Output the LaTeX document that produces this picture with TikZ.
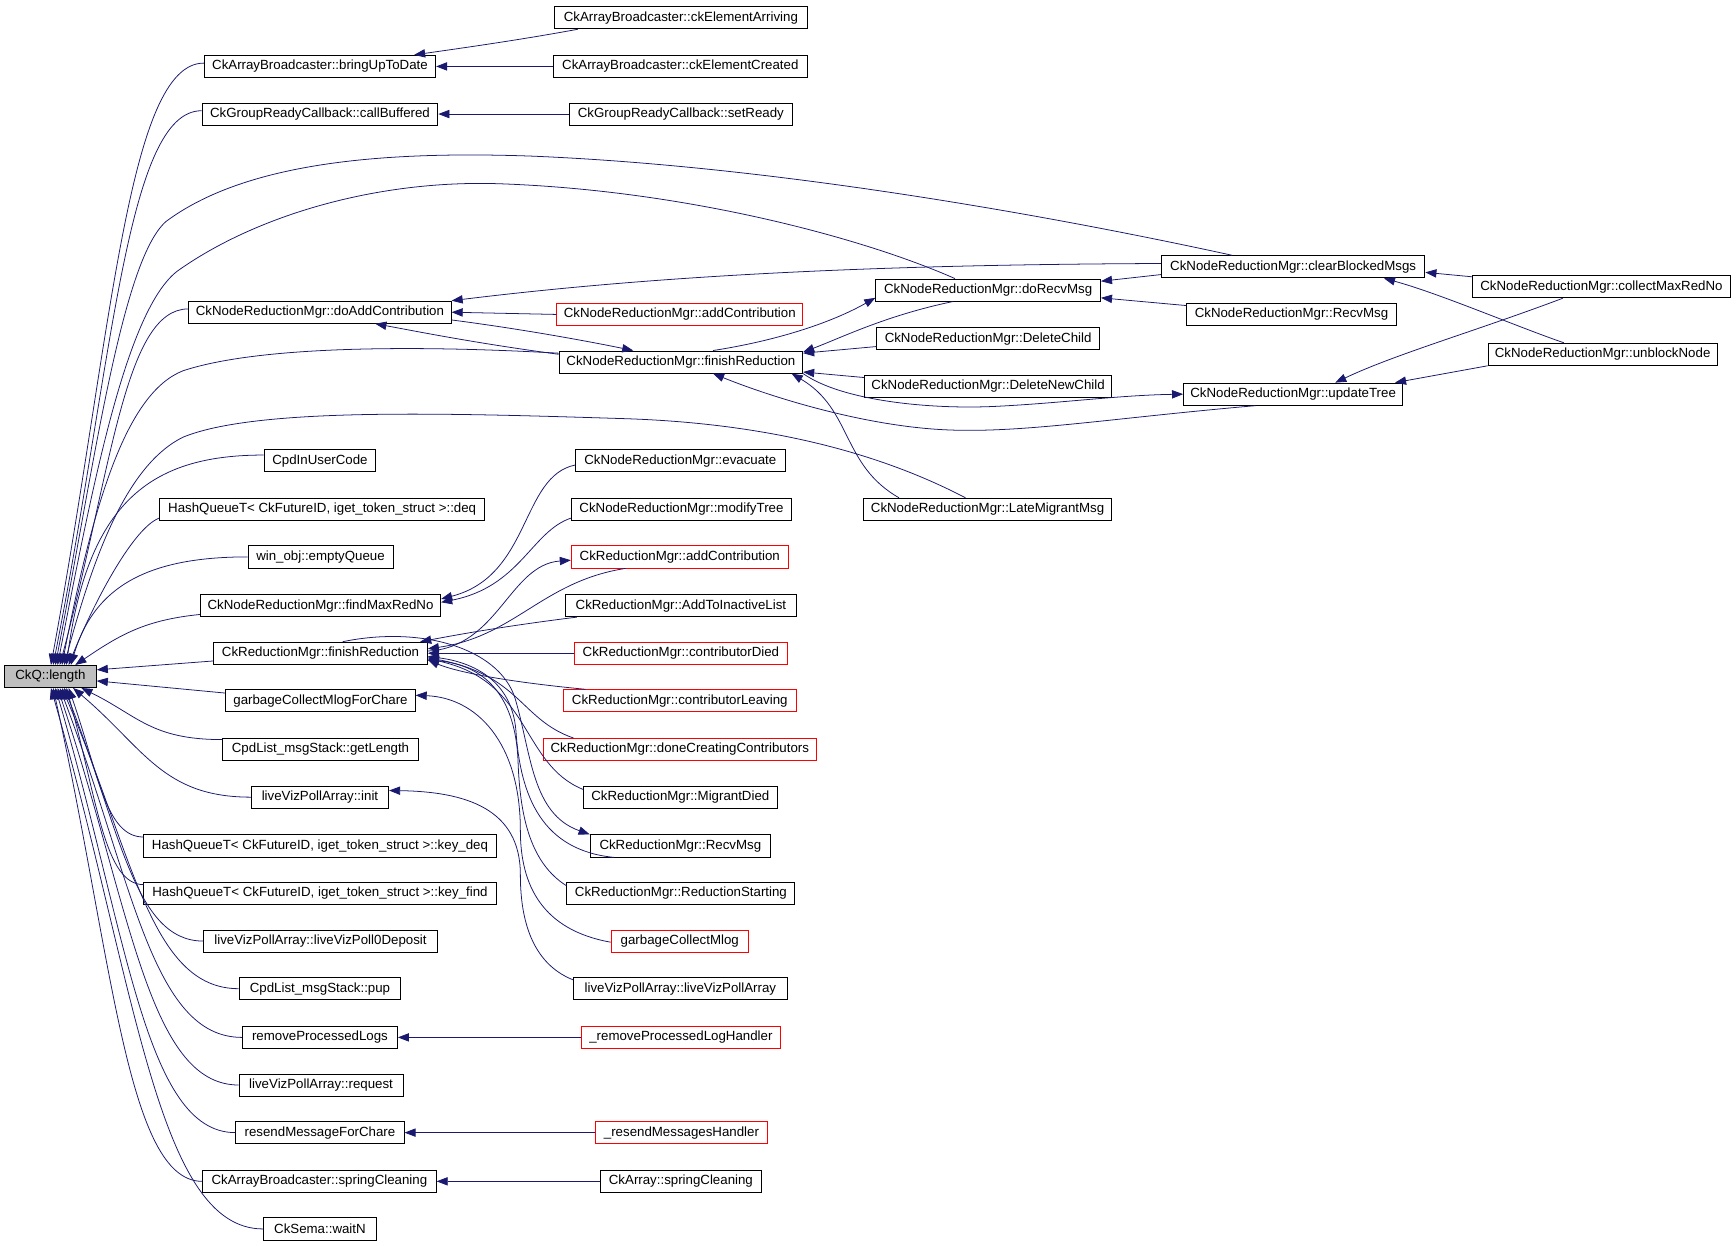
\documentclass[tikz,border=0pt]{standalone}
\usepackage{fontspec}
\newfontfamily\fnfont{Liberation Sans}
\usetikzlibrary{arrows.meta}
\definecolor{edgeblue}{HTML}{191970}
\definecolor{rootgray}{HTML}{BFBFBF}
\begin{document}
\begin{tikzpicture}[x=1pt, y=-1pt,
  fn/.style={draw=black, line width=0.8pt, fill=white, minimum height=20pt, inner xsep=3pt, inner ysep=0pt, font=\fnfont\fontsize{12}{14}\selectfont},
  fnred/.style={fn, draw=red},
  fnroot/.style={fn, fill=rootgray},
  edge/.style={draw=edgeblue, line width=0.7pt, -{Triangle[length=10pt,width=7.5pt]}}]
\path[fill=white] (0,0) rectangle (1568,1125);
\node[fnroot, minimum width=83pt] (a0) at (45.5,611){CkQ::length};
\node[fn, minimum width=209pt] (b1) at (289,60){CkArrayBroadcaster::bringUpToDate};
\node[fn, minimum width=213pt] (b2) at (289,103){CkGroupReadyCallback::callBuffered};
\node[fn, minimum width=237pt] (b3) at (289,282){CkNodeReductionMgr::doAddContribution};
\node[fn, minimum width=101pt] (b4) at (289,416){CpdInUserCode};
\node[fn, minimum width=294pt] (b5) at (291,460){HashQueueT< CkFutureID, iget\_token\_struct >::deq};
\node[fn, minimum width=131pt] (b6) at (289.5,503){win\_obj::emptyQueue};
\node[fn, minimum width=217pt] (b7) at (289.5,547){CkNodeReductionMgr::findMaxRedNo};
\node[fn, minimum width=193pt] (b8) at (289.5,590){CkReductionMgr::finishReduction};
\node[fn, minimum width=171pt] (b9) at (289.5,633){garbageCollectMlogForChare};
\node[fn, minimum width=177pt] (b10) at (289.5,677){CpdList\_msgStack::getLength};
\node[fn, minimum width=124pt] (b11) at (289,720){liveVizPollArray::init};
\node[fn, minimum width=318pt] (b12) at (289,764){HashQueueT< CkFutureID, iget\_token\_struct >::key\_deq};
\node[fn, minimum width=318pt] (b13) at (289,807){HashQueueT< CkFutureID, iget\_token\_struct >::key\_find};
\node[fn, minimum width=211pt] (b14) at (289.5,850){liveVizPollArray::liveVizPoll0Deposit};
\node[fn, minimum width=146pt] (b15) at (289,893){CpdList\_msgStack::pup};
\node[fn, minimum width=140pt] (b16) at (289,937){removeProcessedLogs};
\node[fn, minimum width=148pt] (b17) at (290,980){liveVizPollArray::request};
\node[fn, minimum width=152pt] (b18) at (289,1023){resendMessageForChare};
\node[fn, minimum width=211pt] (b19) at (288.5,1067){CkArrayBroadcaster::springCleaning};
\node[fn, minimum width=102pt] (b20) at (289,1110){CkSema::waitN};
\node[fn, minimum width=228pt] (c1) at (615,16){CkArrayBroadcaster::ckElementArriving};
\node[fn, minimum width=229pt] (c2) at (614.5,60){CkArrayBroadcaster::ckElementCreated};
\node[fn, minimum width=202pt] (c3) at (615,103){CkGroupReadyCallback::setReady};
\node[fnred, minimum width=222pt] (c4) at (614,284){CkNodeReductionMgr::addContribution};
\node[fn, minimum width=220pt] (c5) at (615,327){CkNodeReductionMgr::finishReduction};
\node[fn, minimum width=189pt] (c6) at (614.5,416){CkNodeReductionMgr::evacuate};
\node[fn, minimum width=199pt] (c7) at (615.5,460){CkNodeReductionMgr::modifyTree};
\node[fnred, minimum width=196pt] (c8) at (614,503){CkReductionMgr::addContribution};
\node[fn, minimum width=208pt] (c9) at (615,547){CkReductionMgr::AddToInactiveList};
\node[fnred, minimum width=192pt] (c10) at (615,590){CkReductionMgr::contributorDied};
\node[fnred, minimum width=210pt] (c11) at (614,633){CkReductionMgr::contributorLeaving};
\node[fnred, minimum width=246pt] (c12) at (614,677){CkReductionMgr::doneCreatingContributors};
\node[fn, minimum width=175pt] (c13) at (614.5,720){CkReductionMgr::MigrantDied};
\node[fn, minimum width=163pt] (c14) at (614.5,764){CkReductionMgr::RecvMsg};
\node[fn, minimum width=206pt] (c15) at (615,807){CkReductionMgr::ReductionStarting};
\node[fnred, minimum width=124pt] (c16) at (614,850){garbageCollectMlog};
\node[fn, minimum width=193pt] (c17) at (614.5,893){liveVizPollArray::liveVizPollArray};
\node[fnred, minimum width=180pt] (c18) at (615,937){\_removeProcessedLogHandler};
\node[fnred, minimum width=155pt] (c19) at (615.5,1023){\_resendMessagesHandler};
\node[fn, minimum width=146pt] (c20) at (615,1067){CkArray::springCleaning};
\node[fn, minimum width=203pt] (d1) at (892.5,262){CkNodeReductionMgr::doRecvMsg};
\node[fn, minimum width=201pt] (d2) at (892.5,306){CkNodeReductionMgr::DeleteChild};
\node[fn, minimum width=223pt] (d3) at (892.5,349){CkNodeReductionMgr::DeleteNewChild};
\node[fn, minimum width=224pt] (d4) at (892,460){CkNodeReductionMgr::LateMigrantMsg};
\node[fn, minimum width=238pt] (e1) at (1168,241){CkNodeReductionMgr::clearBlockedMsgs};
\node[fn, minimum width=189pt] (e2) at (1166.5,284){CkNodeReductionMgr::RecvMsg};
\node[fn, minimum width=198pt] (e3) at (1168,356){CkNodeReductionMgr::updateTree};
\node[fn, minimum width=233pt] (f1) at (1446.5,259){CkNodeReductionMgr::collectMaxRedNo};
\node[fn, minimum width=207pt] (f2) at (1447.5,320){CkNodeReductionMgr::unblockNode};

% callers of CkQ::length, from above
\draw[edge] ([yshift=3pt]b1.west) .. controls +(-69,0) and +(55,-298) .. ([xshift=0.5pt]a0.north);
\draw[edge] ([yshift=3pt]b2.west) .. controls +(-68,0) and +(54,-274) .. ([xshift=2.5pt]a0.north);
\draw[edge] ([xshift=-55pt]e1.north) .. controls (950,195) and (700,150) .. (480,141) .. controls (340,136) and (220,148) .. (150,200) .. controls (110,235) and (85,420) .. ([xshift=4.5pt]a0.north);
\draw[edge] ([xshift=-30pt]d1.north) .. controls (780,215) and (620,172) .. (452,166) .. controls (340,162) and (230,195) .. (160,245) .. controls (115,280) and (85,430) .. ([xshift=6.5pt]a0.north);
\draw[edge] ([yshift=3pt]b3.west) .. controls +(-58,0) and +(47,-175) .. ([xshift=8.5pt]a0.north);
\draw[edge] ([yshift=8pt]c5.west) .. controls (400,313) and (240,310) .. (165,335) .. controls (115,355) and (85,450) .. ([xshift=10.5pt]a0.north);
\draw[edge] ([xshift=-20pt]d4.north) .. controls (800,412) and (700,382) .. (560,378) .. controls (400,373) and (230,368) .. (165,395) .. controls (115,420) and (85,500) .. ([xshift=12.5pt]a0.north);
\draw[edge] ([yshift=5pt]b4.west) .. controls +(-98,0) and +(20,-151) .. ([xshift=14.5pt]a0.north);
\draw[edge] ([yshift=-8pt]b5.west) .. controls +(-25,10) and +(20,-50) .. ([xshift=16.5pt]a0.north);
\draw[edge] (b6.west) .. controls +(-90,0) and +(21,-71) .. ([xshift=18.5pt]a0.north);
\draw[edge] ([yshift=-8pt]b7.west) .. controls +(-50,5) and +(40,-27) .. ([xshift=22.5pt]a0.north);
% from the right
\draw[edge] ([yshift=-7pt]b8.west) -- ([yshift=6pt]a0.east);
\draw[edge] ([yshift=7pt]b9.west) -- ([yshift=-4pt]a0.east);
% from below
\draw[edge] ([yshift=9pt]b10.west) .. controls +(-64,0) and +(51,25) .. ([xshift=28pt]a0.south);
\draw[edge] (b11.west) .. controls +(-80,0) and +(64,54) .. ([xshift=20.5pt]a0.south);
\draw[edge] ([yshift=8pt]b12.west) .. controls +(-34,0) and +(27,78) .. ([xshift=16.5pt]a0.south);
\draw[edge] ([yshift=8pt]b13.west) .. controls +(-35,0) and +(28,102) .. ([xshift=14.5pt]a0.south);
\draw[edge] (b14.west) .. controls +(-63,0) and +(50,125) .. ([xshift=12.5pt]a0.south);
\draw[edge] (b15.west) .. controls +(-80,0) and +(64,149) .. ([xshift=10.5pt]a0.south);
\draw[edge] (b16.west) .. controls +(-82,0) and +(66,173) .. ([xshift=8.5pt]a0.south);
\draw[edge] (b17.west) .. controls +(-82,0) and +(66,197) .. ([xshift=6.5pt]a0.south);
\draw[edge] (b18.west) .. controls +(-82,0) and +(65,221) .. ([xshift=4.5pt]a0.south);
\draw[edge] (b19.west) .. controls +(-68,0) and +(54,245) .. ([xshift=2.5pt]a0.south);
\draw[edge] (b20.west) .. controls +(-96,0) and +(77,268) .. ([xshift=0.5pt]a0.south);

% top group
\draw[edge] ([xshift=-93pt]c1.south) .. controls (470,36) and (420,43) .. ([xshift=85pt]b1.north);
\draw[edge] (c2.west) -- (b1.east);
\draw[edge] (c3.west) -- (b2.east);

% node reduction manager
\draw[edge] (c4.west) -- (b3.east);
\draw[edge] ([yshift=3pt]e1.west) .. controls (800,239) and (600,248) .. (b3.north east);
\draw[edge] ([yshift=7pt]c5.west) .. controls (430,310) and (380,300) .. ([xshift=50pt]b3.south);
\draw[edge] ([yshift=-7pt]b3.east) .. controls (470,297) and (530,308) .. ([xshift=-43pt]c5.north);
\draw[edge] ([xshift=29pt]c5.north) .. controls (700,308) and (750,292) .. ([yshift=-7pt]d1.west);
\draw[edge] ([xshift=-32pt]d1.south) .. controls (800,285) and (760,305) .. ([yshift=9pt]c5.east);
\draw[edge] ([yshift=-7pt]d2.west) -- ([yshift=8pt]c5.east);
\draw[edge] ([yshift=8pt]d3.west) -- ([yshift=-9pt]c5.east);
\draw[edge] (c5.south east) .. controls (760,362) and (840,370) .. (900,367) .. controls (960,364) and (1010,357) .. (e3.west);
\draw[edge] ([xshift=-34pt]e3.south) .. controls (1000,378) and (920,392) .. (850,388) .. controls (780,384) and (700,360) .. ([xshift=29pt]c5.south);
\draw[edge] ([xshift=-80pt]d4.north) .. controls (760,420) and (770,370) .. ([xshift=100pt]c5.south);
\draw[edge] ([yshift=9pt]f1.west) -- ([yshift=-5pt]e1.east);
\draw[edge] ([xshift=-35pt]f2.north) .. controls (1370,295) and (1300,265) .. ([xshift=82pt]e1.south);
\draw[edge] ([yshift=-7pt]e1.west) -- ([yshift=8pt]d1.east);
\draw[edge] ([yshift=8pt]e2.west) -- ([yshift=-7pt]d1.east);
\draw[edge] ([xshift=-35pt]f1.south) .. controls (1330,300) and (1260,320) .. ([xshift=38pt]e3.north);
\draw[edge] (f2.south west) -- ([xshift=92pt]e3.north);
\draw[edge] ([yshift=-4pt]c6.west) .. controls (470,430) and (480,520) .. ([yshift=6pt]b7.east);
\draw[edge] ([yshift=-8pt]c7.west) .. controls (480,480) and (470,530) .. ([yshift=3pt]b7.east);

% reduction manager
\draw[edge] ([yshift=2pt]b8.east) .. controls (450,585) and (460,510) .. ([yshift=-3pt]c8.west);
\draw[edge] ([xshift=-49pt]c8.south) .. controls (490,525) and (465,575) .. ([yshift=4pt]b8.east);
\draw[edge] ([xshift=-94pt]c9.south) .. controls (460,565) and (420,572) .. ([xshift=90pt]b8.north);
\draw[edge] (c10.west) -- (b8.east);
\draw[edge] ([xshift=-85pt]c11.north) .. controls (450,615) and (410,606) .. ([yshift=-6pt]b8.east);
\draw[edge] ([xshift=-96pt]c12.north) .. controls (470,650) and (470,610) .. ([yshift=-4pt]b8.east);
\draw[edge] ([yshift=7pt]c13.west) .. controls (470,690) and (480,615) .. ([yshift=-5pt]b8.east);
\draw[edge] ([xshift=20pt]b8.north) .. controls (380,565) and (450,585) .. (465,630) .. controls (480,680) and (480,735) .. (c14.north west);
\draw[edge] ([xshift=-60pt]c14.south) .. controls (490,768) and (470,720) .. (466,660) .. controls (462,610) and (420,597) .. ([yshift=-3pt]b8.east);
\draw[edge] ([yshift=7pt]c15.west) .. controls (480,780) and (470,740) .. (468,690) .. controls (466,620) and (430,600) .. ([yshift=-6pt]b8.east);
\draw[edge] ([yshift=-1pt]c16.west) .. controls (490,840) and (470,800) .. (470,750) .. controls (470,670) and (430,630) .. ([yshift=5pt]b9.east);
\draw[edge] ([yshift=8pt]c17.west) .. controls (480,870) and (470,830) .. (470,790) .. controls (470,730) and (420,715) .. ([yshift=6pt]b11.east);
\draw[edge] (c18.west) -- (b16.east);
\draw[edge] (c19.west) -- (b18.east);
\draw[edge] (c20.west) -- (b19.east);

\end{tikzpicture}
\end{document}
